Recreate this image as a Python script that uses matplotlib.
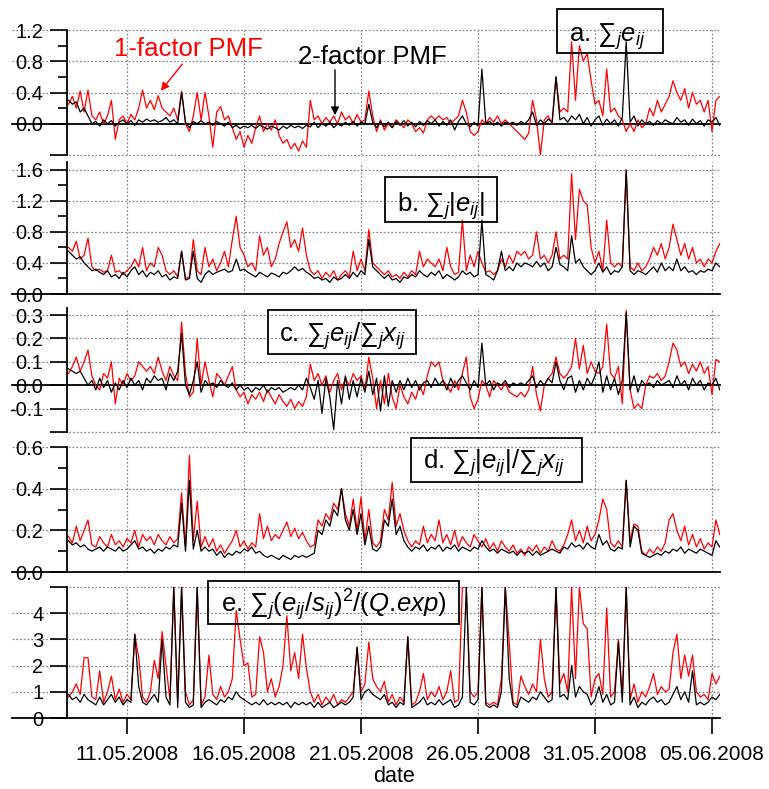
import matplotlib
matplotlib.use('Agg')
import matplotlib.pyplot as plt
from matplotlib.patches import Rectangle
from datetime import datetime, timedelta

plt.rcParams['font.family'] = ['Liberation Sans', 'DejaVu Sans']
plt.rcParams['mathtext.fontset'] = 'custom'
plt.rcParams['mathtext.rm'] = 'Liberation Sans'
plt.rcParams['mathtext.it'] = 'Liberation Sans:italic'
plt.rcParams['mathtext.bf'] = 'Liberation Sans:bold'
plt.rcParams['axes.unicode_minus'] = False

# ---------------- data (4-hourly samples from 08.05.2008 12:00) ----------------
start_time = datetime(2008, 5, 8, 12)
step_hours = 4

a_red = [
 0.25, 0.35, 0.20, 0.42, 0.15, 0.43, 0.10, 0.05, 0.15, 0.00, 0.10, 0.30,
 -0.20, 0.05, 0.10, 0.00, 0.12, 0.05, 0.20, 0.43, 0.20, 0.30, 0.18, 0.36,
 0.20, 0.15, 0.10, 0.20, 0.05, 0.42, 0.00, -0.10, 0.10, 0.40, 0.05, 0.40,
 0.10, -0.30, 0.15, 0.22, 0.05, 0.10, -0.05, -0.20, -0.10, -0.30, -0.15, -0.25,
 -0.05, 0.10, -0.10, 0.00, -0.08, 0.05, -0.15, -0.25, -0.20, -0.32, -0.25, -0.35,
 -0.22, -0.30, 0.30, 0.05, 0.10, 0.00, 0.08, 0.02, 0.10, 0.00, 0.15, 0.05,
 0.10, 0.00, 0.12, 0.02, 0.05, 0.42, 0.10, -0.10, 0.05, -0.08, 0.00, -0.05,
 0.05, 0.00, -0.05, 0.05, 0.00, -0.10, -0.05, -0.12, 0.05, 0.10, 0.05, 0.10,
 0.05, 0.08, 0.00, 0.05, 0.10, 0.30, 0.15, -0.10, -0.15, -0.10, 0.05, 0.00,
 0.08, 0.02, 0.10, 0.00, 0.05, 0.00, -0.05, -0.10, -0.15, -0.20, -0.12, 0.30,
 0.05, -0.40, 0.05, 0.10, 0.00, 0.60, 0.15, 0.20, 0.15, 1.05, 0.30, 1.00,
 0.80, 0.90, 0.55, 0.25, 0.30, 0.10, 0.70, 0.15, 0.20, 0.10, 0.05, -0.10,
 0.00, -0.10, 0.05, -0.05, 0.00, 0.20, 0.10, 0.30, 0.15, 0.25, 0.35, 0.55,
 0.40, 0.30, 0.45, 0.20, 0.40, 0.25, 0.30, 0.15, 0.30, -0.10, 0.30, 0.35]
a_black = [
 0.30, 0.25, 0.28, 0.15, 0.20, 0.10, 0.00, 0.03, -0.03, 0.05, 0.00, 0.04,
 -0.03, 0.02, 0.05, 0.00, 0.04, -0.02, 0.05, 0.02, 0.06, 0.03, 0.05, 0.02,
 0.04, 0.08, 0.02, 0.05, 0.00, 0.40, 0.02, -0.05, 0.03, 0.00, 0.04, 0.00,
 0.02, -0.02, 0.03, 0.00, -0.03, 0.02, -0.05, -0.02, -0.06, -0.03, -0.05, -0.02,
 -0.06, -0.02, -0.04, -0.07, -0.03, -0.05, -0.08, -0.03, -0.06, -0.02, -0.05, -0.03,
 -0.06, -0.02, -0.04, 0.02, -0.05, 0.00, -0.03, 0.02, -0.05, 0.00, -0.03, 0.02,
 -0.02, 0.03, -0.03, 0.02, 0.00, 0.25, 0.02, -0.05, 0.03, -0.04, 0.02, -0.05,
 0.03, -0.02, 0.04, -0.03, 0.02, -0.04, 0.03, -0.02, 0.04, 0.00, 0.05, -0.03,
 0.03, -0.02, 0.05, -0.08, 0.03, 0.10, 0.00, -0.04, 0.02, -0.03, 0.70, 0.00,
 0.03, -0.02, 0.02, -0.03, 0.02, 0.00, 0.02, -0.02, 0.03, 0.00, 0.05, 0.15,
 -0.02, 0.05, 0.00, 0.06, 0.02, 0.60, 0.05, 0.08, 0.02, 0.10, 0.05, 0.12,
 0.00, 0.08, -0.03, 0.05, 0.10, -0.02, 0.06, 0.00, 0.05, -0.03, 0.08, 1.05,
 0.02, 0.10, -0.03, 0.05, 0.00, 0.03, -0.02, 0.04, 0.00, 0.05, 0.02, 0.00,
 0.08, 0.02, 0.05, -0.02, 0.06, 0.00, 0.04, -0.03, 0.05, 0.02, 0.08, -0.02]

b_red = [
 0.60, 0.55, 0.68, 0.45, 0.50, 0.72, 0.35, 0.30, 0.32, 0.28, 0.30, 0.50,
 0.28, 0.30, 0.25, 0.30, 0.35, 0.45, 0.35, 0.60, 0.30, 0.40, 0.35, 0.60,
 0.50, 0.30, 0.25, 0.30, 0.22, 0.55, 0.20, 0.22, 0.70, 0.30, 0.25, 0.60,
 0.35, 0.45, 0.30, 0.40, 0.55, 0.35, 0.70, 1.00, 0.60, 0.50, 0.35, 0.40,
 0.30, 0.75, 0.50, 0.60, 0.35, 0.45, 0.65, 0.80, 0.93, 0.60, 0.70, 0.55,
 0.85, 0.50, 0.30, 0.25, 0.30, 0.20, 0.28, 0.22, 0.30, 0.18, 0.25, 0.30,
 0.22, 0.55, 0.30, 0.45, 0.30, 0.83, 0.40, 0.35, 0.30, 0.25, 0.30, 0.22,
 0.25, 0.20, 0.28, 0.22, 0.30, 0.25, 0.55, 0.35, 0.45, 0.40, 0.35, 0.45,
 0.30, 0.60, 0.35, 0.25, 0.28, 0.95, 0.30, 0.50, 0.35, 0.55, 0.40, 0.28,
 0.30, 0.25, 0.30, 0.45, 0.35, 0.50, 0.40, 0.55, 0.50, 0.55, 0.45, 0.50,
 0.80, 0.45, 0.50, 0.40, 0.50, 0.80, 0.45, 0.50, 0.45, 1.55, 0.70, 1.35,
 1.20, 1.15, 0.60, 0.40, 0.55, 0.30, 0.95, 0.40, 0.35, 0.40, 0.35, 1.58,
 0.35, 0.30, 0.40, 0.30, 0.35, 0.45, 0.60, 0.50, 0.65, 0.45, 0.60, 0.90,
 0.70, 0.50, 0.65, 0.45, 0.60, 0.40, 0.45, 0.35, 0.45, 0.40, 0.55, 0.65]
b_black = [
 0.55, 0.50, 0.45, 0.48, 0.40, 0.35, 0.30, 0.32, 0.28, 0.25, 0.30, 0.22,
 0.25, 0.20, 0.28, 0.22, 0.30, 0.35, 0.25, 0.30, 0.22, 0.28, 0.25, 0.30,
 0.22, 0.25, 0.18, 0.22, 0.20, 0.55, 0.18, 0.20, 0.55, 0.20, 0.15, 0.25,
 0.30, 0.25, 0.28, 0.30, 0.32, 0.28, 0.30, 0.45, 0.30, 0.32, 0.28, 0.25,
 0.22, 0.28, 0.25, 0.22, 0.27, 0.25, 0.22, 0.28, 0.26, 0.30, 0.35, 0.30,
 0.33, 0.28, 0.25, 0.20, 0.22, 0.18, 0.20, 0.15, 0.22, 0.18, 0.20, 0.25,
 0.20, 0.28, 0.22, 0.30, 0.25, 0.70, 0.35, 0.30, 0.25, 0.20, 0.25, 0.18,
 0.20, 0.15, 0.22, 0.20, 0.25, 0.22, 0.30, 0.25, 0.22, 0.28, 0.24, 0.30,
 0.20, 0.25, 0.22, 0.18, 0.22, 0.30, 0.25, 0.28, 0.22, 0.25, 0.95, 0.25,
 0.22, 0.18, 0.30, 0.55, 0.30, 0.35, 0.30, 0.40, 0.35, 0.40, 0.38, 0.35,
 0.42, 0.35, 0.40, 0.30, 0.35, 0.60, 0.38, 0.35, 0.30, 0.75, 0.40, 0.45,
 0.35, 0.30, 0.25, 0.30, 0.40, 0.28, 0.35, 0.25, 0.30, 0.28, 0.35, 1.60,
 0.30, 0.25, 0.30, 0.28, 0.25, 0.30, 0.35, 0.28, 0.40, 0.30, 0.35, 0.30,
 0.45, 0.30, 0.35, 0.28, 0.30, 0.25, 0.30, 0.28, 0.32, 0.30, 0.40, 0.35]

c_red = [
 0.05, 0.08, 0.12, 0.06, 0.10, 0.15, 0.04, 0.00, -0.02, 0.05, 0.03, 0.10,
 -0.08, 0.03, 0.00, 0.05, 0.02, 0.04, 0.10, 0.08, 0.06, 0.08, 0.05, 0.12,
 0.06, 0.02, 0.08, 0.04, 0.02, 0.27, 0.05, -0.05, -0.03, 0.20, 0.00, 0.10,
 0.02, -0.05, 0.05, 0.03, 0.00, 0.04, 0.08, -0.02, -0.05, -0.03, -0.08, -0.04,
 -0.06, -0.03, -0.07, -0.02, -0.05, -0.08, -0.04, -0.07, -0.09, -0.06, -0.10, -0.07,
 -0.09, -0.05, 0.09, 0.02, 0.05, 0.00, 0.04, -0.03, 0.02, 0.05, -0.02, 0.03,
 0.00, 0.05, 0.02, 0.04, -0.02, 0.12, 0.03, -0.10, 0.02, -0.08, 0.05, -0.05,
 -0.10, 0.00, -0.05, -0.08, -0.03, -0.06, 0.00, -0.04, 0.04, 0.10, 0.08, 0.10,
 0.02, 0.00, -0.03, 0.02, -0.02, 0.05, 0.12, -0.05, -0.10, -0.06, 0.02, 0.00,
 -0.05, 0.02, 0.00, -0.02, 0.01, -0.03, -0.04, -0.05, -0.03, -0.05, -0.02, 0.08,
 -0.04, -0.11, 0.00, 0.03, 0.05, 0.12, 0.05, 0.03, 0.05, 0.08, 0.20, 0.07,
 0.17, 0.05, 0.10, 0.06, 0.05, 0.08, 0.26, 0.05, 0.03, 0.08, -0.08, 0.32,
 -0.02, -0.10, -0.08, -0.10, 0.00, 0.04, 0.03, 0.05, 0.02, 0.04, 0.10, 0.18,
 0.15, 0.08, 0.10, 0.05, 0.09, 0.06, 0.10, 0.05, 0.08, -0.04, 0.11, 0.10]
c_black = [
 0.07, 0.06, 0.05, 0.06, 0.03, 0.00, 0.02, -0.02, 0.03, -0.01, 0.02, -0.03,
 0.01, -0.02, 0.02, -0.01, 0.03, 0.00, 0.02, -0.02, 0.03, 0.01, 0.04, 0.02,
 0.03, -0.02, 0.05, 0.02, 0.06, 0.22, 0.00, -0.04, 0.02, 0.10, -0.03, 0.02,
 0.00, 0.01, -0.01, 0.02, 0.00, -0.01, 0.01, -0.02, 0.00, -0.02, -0.01, -0.03,
 -0.01, -0.02, 0.00, -0.03, -0.01, -0.02, -0.01, -0.03, -0.02, -0.01, -0.02, 0.00,
 -0.02, 0.03, -0.01, -0.06, 0.02, -0.12, 0.03, -0.05, -0.19, 0.02, -0.08, 0.04,
 -0.06, 0.02, -0.05, 0.03, -0.03, 0.06, -0.04, 0.03, -0.11, 0.04, -0.09, 0.02,
 -0.03, 0.02, -0.02, 0.03, -0.01, 0.02, -0.02, 0.01, 0.02, -0.01, 0.03, 0.00,
 0.02, -0.02, 0.03, -0.01, 0.02, 0.04, 0.01, -0.02, 0.02, -0.01, 0.18, 0.00,
 0.02, -0.02, 0.01, 0.00, 0.02, -0.01, 0.01, 0.00, 0.01, 0.00, 0.02, 0.04,
 -0.01, 0.02, 0.00, 0.03, 0.01, 0.10, 0.02, -0.02, 0.03, 0.04, -0.03, 0.02,
 -0.02, 0.03, 0.00, 0.04, 0.10, -0.03, 0.04, -0.02, 0.03, -0.04, 0.02, 0.31,
 -0.02, 0.04, -0.03, 0.02, 0.00, 0.01, -0.01, 0.02, 0.00, 0.01, 0.02, -0.01,
 0.04, 0.00, 0.02, -0.02, 0.03, 0.00, 0.02, -0.02, 0.01, 0.00, 0.03, -0.02]

d_red = [
 0.17, 0.14, 0.22, 0.15, 0.20, 0.25, 0.13, 0.12, 0.17, 0.14, 0.12, 0.18,
 0.13, 0.15, 0.12, 0.16, 0.14, 0.20, 0.12, 0.18, 0.15, 0.17, 0.13, 0.18,
 0.15, 0.13, 0.17, 0.14, 0.16, 0.38, 0.12, 0.56, 0.15, 0.34, 0.12, 0.17,
 0.12, 0.16, 0.10, 0.13, 0.09, 0.12, 0.15, 0.20, 0.12, 0.15, 0.11, 0.14,
 0.12, 0.28, 0.16, 0.22, 0.15, 0.18, 0.16, 0.20, 0.24, 0.17, 0.21, 0.16,
 0.19, 0.15, 0.12, 0.13, 0.25, 0.22, 0.28, 0.25, 0.33, 0.30, 0.40, 0.28,
 0.22, 0.35, 0.20, 0.36, 0.15, 0.30, 0.14, 0.12, 0.15, 0.30, 0.25, 0.43,
 0.22, 0.28, 0.20, 0.15, 0.12, 0.15, 0.13, 0.22, 0.14, 0.18, 0.15, 0.25,
 0.14, 0.18, 0.13, 0.20, 0.12, 0.17, 0.14, 0.12, 0.18, 0.15, 0.12, 0.16,
 0.11, 0.14, 0.10, 0.15, 0.12, 0.10, 0.13, 0.09, 0.11, 0.08, 0.12, 0.10,
 0.13, 0.09, 0.12, 0.10, 0.15, 0.11, 0.10, 0.13, 0.18, 0.25, 0.15, 0.20,
 0.14, 0.22, 0.15, 0.18, 0.25, 0.35, 0.30, 0.14, 0.12, 0.15, 0.12, 0.44,
 0.15, 0.23, 0.22, 0.10, 0.08, 0.11, 0.09, 0.12, 0.10, 0.14, 0.25, 0.28,
 0.20, 0.15, 0.22, 0.13, 0.18, 0.12, 0.16, 0.11, 0.14, 0.12, 0.25, 0.18]
d_black = [
 0.15, 0.13, 0.14, 0.12, 0.13, 0.11, 0.10, 0.11, 0.12, 0.10, 0.12, 0.11,
 0.10, 0.12, 0.10, 0.11, 0.13, 0.15, 0.11, 0.12, 0.10, 0.11, 0.09, 0.11,
 0.10, 0.12, 0.11, 0.13, 0.12, 0.33, 0.10, 0.44, 0.11, 0.20, 0.10, 0.12,
 0.10, 0.11, 0.08, 0.10, 0.07, 0.09, 0.08, 0.10, 0.09, 0.11, 0.10, 0.12,
 0.09, 0.10, 0.08, 0.07, 0.08, 0.07, 0.06, 0.08, 0.07, 0.06, 0.08, 0.07,
 0.08, 0.07, 0.08, 0.09, 0.20, 0.18, 0.25, 0.22, 0.30, 0.27, 0.40, 0.25,
 0.20, 0.30, 0.18, 0.28, 0.13, 0.22, 0.11, 0.10, 0.12, 0.25, 0.22, 0.35,
 0.18, 0.22, 0.15, 0.12, 0.10, 0.12, 0.11, 0.13, 0.10, 0.12, 0.11, 0.13,
 0.10, 0.12, 0.11, 0.13, 0.10, 0.12, 0.11, 0.10, 0.12, 0.11, 0.15, 0.12,
 0.10, 0.11, 0.09, 0.11, 0.10, 0.09, 0.10, 0.08, 0.10, 0.09, 0.10, 0.08,
 0.10, 0.08, 0.09, 0.10, 0.11, 0.10, 0.09, 0.12, 0.11, 0.14, 0.12, 0.13,
 0.11, 0.14, 0.12, 0.11, 0.18, 0.13, 0.15, 0.11, 0.10, 0.12, 0.11, 0.44,
 0.12, 0.22, 0.20, 0.09, 0.08, 0.07, 0.08, 0.09, 0.08, 0.10, 0.09, 0.11,
 0.10, 0.12, 0.09, 0.11, 0.10, 0.09, 0.11, 0.10, 0.09, 0.08, 0.15, 0.12]

e_red = [
 0.8, 1.0, 1.3, 0.9, 2.3, 2.3, 0.8, 0.7, 1.8, 0.6, 1.0, 1.6,
 0.7, 1.1, 0.6, 0.9, 0.7, 3.2, 2.3, 0.8, 0.6, 1.0, 2.2, 1.5,
 3.3, 2.0, 0.7, 5.0, 0.6, 5.0, 1.0, 0.5, 0.7, 5.0, 0.5, 0.8,
 2.4, 0.9, 0.7, 1.2, 0.8, 1.0, 1.5, 4.1, 3.0, 2.0, 2.1, 0.8,
 0.9, 3.1, 2.5, 1.0, 1.5, 0.8, 1.2, 2.0, 3.9, 1.8, 2.5, 1.5,
 3.2, 1.9, 1.0, 0.6, 0.9, 0.5, 0.8, 0.6, 0.9, 0.5, 0.7, 0.6,
 0.8, 1.0, 2.7, 1.0, 1.3, 2.9, 1.5, 1.2, 1.0, 1.4, 0.6, 0.9,
 0.5, 0.8, 0.6, 3.1, 0.5, 0.6, 1.0, 1.7, 0.7, 1.0, 0.8, 1.2,
 0.7, 1.0, 1.8, 0.6, 0.7, 5.0, 5.0, 1.0, 0.8, 1.0, 5.0, 0.6,
 0.5, 0.6, 0.5, 1.5, 5.0, 2.9, 0.6, 0.5, 1.6, 1.2, 0.9, 1.3,
 1.0, 3.0, 1.5, 0.8, 1.0, 5.0, 1.3, 1.7, 1.0, 5.0, 1.5, 5.0,
 3.6, 3.4, 0.8, 1.5, 1.7, 0.9, 4.2, 0.8, 1.0, 3.0, 0.8, 5.0,
 0.7, 1.3, 0.6, 1.0, 0.8, 1.2, 1.7, 0.9, 1.2, 1.0, 1.1, 2.5,
 3.2, 1.5, 2.4, 1.6, 2.4, 1.0, 0.8, 0.9, 0.7, 1.7, 1.3, 1.6]
e_black = [
 0.9, 0.7, 0.8, 0.6, 0.9, 0.7, 0.6, 0.5, 0.8, 0.5, 0.7, 0.9,
 0.6, 0.8, 0.5, 0.7, 0.6, 3.2, 1.2, 0.6, 0.5, 0.7, 0.9, 0.6,
 3.0, 0.8, 0.5, 5.0, 0.4, 5.0, 0.6, 0.4, 0.5, 5.0, 0.4, 0.6,
 0.7, 0.6, 0.5, 0.7, 0.6, 0.8, 0.7, 1.0, 0.8, 0.7, 0.6, 0.5,
 0.6, 0.5, 0.7, 0.5, 0.6, 0.5, 0.6, 0.5, 0.6, 0.4, 0.6, 0.5,
 0.6, 0.5, 0.6, 0.4, 0.6, 0.4, 0.5, 0.6, 0.4, 0.5, 0.6, 0.5,
 0.6, 0.8, 2.7, 0.7, 1.0, 1.1, 0.9, 0.8, 0.7, 0.9, 0.5, 0.6,
 0.4, 0.6, 0.5, 3.1, 0.4, 0.5, 0.6, 0.8, 0.5, 0.6, 0.5, 0.7,
 0.5, 0.6, 0.7, 0.4, 0.5, 0.8, 5.0, 0.6, 0.5, 0.7, 5.0, 0.5,
 0.4, 0.5, 0.4, 1.0, 5.0, 1.5, 0.5, 0.4, 0.8, 0.7, 0.6, 0.8,
 0.7, 1.0, 0.8, 0.6, 0.7, 5.0, 0.8, 0.9, 0.7, 2.0, 0.8, 1.2,
 1.0, 0.9, 0.5, 0.7, 1.2, 0.6, 0.9, 0.5, 0.6, 2.9, 0.6, 5.0,
 0.5, 0.8, 0.4, 0.6, 0.5, 0.7, 0.8, 0.6, 0.7, 0.5, 0.6, 0.9,
 1.2, 0.7, 1.0, 0.6, 1.8, 0.5, 0.6, 0.5, 0.6, 0.8, 0.7, 0.9]

date_ticks = [datetime(2008, 5, 11), datetime(2008, 5, 16), datetime(2008, 5, 21),
              datetime(2008, 5, 26), datetime(2008, 5, 31), datetime(2008, 6, 5)]
date_labels = ['11.05.2008', '16.05.2008', '21.05.2008', '26.05.2008', '31.05.2008', '05.06.2008']

panel_labels = [r'a. $\mathregular{∑}_j e_{ij}$',
                r'b. $\mathregular{∑}_j|e_{ij}|$',
                r'c. $\mathregular{∑}_j e_{ij}/\mathregular{∑}_j x_{ij}$',
                r'd. $\mathregular{∑}_j|e_{ij}|/\mathregular{∑}_j x_{ij}$',
                r'e. $\mathregular{∑}_j(e_{ij}/s_{ij})^2/(Q.\!exp)$']

# y-axis configurations
y_major = [[-0.4, 0.0, 0.4, 0.8, 1.2], [0.0, 0.4, 0.8, 1.2, 1.6],
           [-0.2, -0.1, 0.0, 0.1, 0.2, 0.3], [0.0, 0.2, 0.4, 0.6], [0, 1, 2, 3, 4, 5]]
y_major_labels = [['', '0.0', '0.4', '0.8', '1.2'], ['0.0', '0.4', '0.8', '1.2', '1.6'],
                  ['', '-0.1', '0.0', '0.1', '0.2', '0.3'], ['0.0', '0.2', '0.4', '0.6'],
                  ['0', '1', '2', '3', '4', '']]
y_minor = [[0.2, 0.6, 1.0], [0.2, 0.6, 1.0, 1.4], [], [0.1, 0.3, 0.5], []]
y_lims = [(-0.4, 1.2), (0.0, 1.7), (-0.2, 0.33), (0.0, 0.6), (0.0, 4.95)]

# ---------------- figure ----------------
W, H = 769, 789
fig = plt.figure(figsize=(W / 100, H / 100), dpi=100)
fig.patch.set_facecolor('white')

px_left, px_right = 67, 720
panel_px = [(30, 155), (162, 294), (308, 432), (447, 572), (587, 718)]
# label boxes (left, top, right, bottom) and text start / baseline, in pixels
box_px = [(557, 9, 663, 53), (385, 177, 497, 222), (268, 310, 416, 354),
          (411, 438, 582, 482), (208, 581, 459, 624)]
text_px = [(569, 42), (397, 212), (279, 342), (423, 469), (221, 612)]

times = [start_time + timedelta(hours=step_hours * k) for k in range(len(a_red))]
x_lo = datetime(2008, 5, 8, 10, 28)
x_hi = datetime(2008, 6, 5, 8, 12)

series = [(a_red, a_black), (b_red, b_black), (c_red, c_black), (d_red, d_black), (e_red, e_black)]
grid_col = '#8a8a8a'
ext = (12 - px_left) / (px_right - px_left)

axes = []
for k, ((red, black), (top, bot)) in enumerate(zip(series, panel_px)):
    ax = fig.add_axes([px_left / W, 1 - bot / H, (px_right - px_left) / W, (bot - top) / H])
    axes.append(ax)
    ax.set_facecolor('none')
    ax.plot(times, red, color='#ff0000', lw=0.9, zorder=3)
    ax.plot(times, black, color='black', lw=0.9, zorder=4)
    ax.set_xlim(x_lo, x_hi)
    ax.set_ylim(*y_lims[k])
    for s in ['top', 'right', 'bottom']:
        ax.spines[s].set_visible(False)
    ax.spines['left'].set_linewidth(1.3)
    ax.spines['left'].set_zorder(6)
    ax.set_yticks(y_major[k])
    ax.set_yticklabels(y_major_labels[k])
    ax.set_yticks(y_minor[k], minor=True)
    ax.tick_params(axis='y', which='major', direction='out', length=12, width=1.2,
                   labelsize=14.5, pad=5)
    ax.tick_params(axis='y', which='minor', direction='out', length=6.5, width=1.2)
    for d in date_ticks:
        ax.axvline(d, color=grid_col, ls=(0, (1.5, 1.5)), lw=0.9, zorder=1)
    for v, lab in zip(y_major[k], y_major_labels[k]):
        if v == 0:
            continue
        x0 = ext if lab else (50 - px_left) / (px_right - px_left)
        ax.plot([x0, 1.0], [v, v], transform=ax.get_yaxis_transform(), color=grid_col,
                ls=(0, (1.5, 1.5)), lw=0.9, clip_on=False, zorder=1)
    ax.plot([ext, 1.0], [0, 0], transform=ax.get_yaxis_transform(), color='black',
            lw=1.3, clip_on=False, zorder=2.5)
    if k < 4:
        ax.set_xticks([])
    else:
        ax.set_xticks(date_ticks)
        ax.set_xticklabels(date_labels)
        ax.tick_params(axis='x', direction='out', length=11.5, width=1.2, labelsize=15, pad=8)
        ax.set_xlabel('date', fontsize=15.5, labelpad=1.5)

    l, t, r, b = box_px[k]
    fig.add_artist(Rectangle((l / W, 1 - b / H), (r - l) / W, (b - t) / H,
                             transform=fig.transFigure, fill=False, ec='black', lw=1.3, zorder=10))
    tx, ty = text_px[k]
    fig.text(tx / W, 1 - ty / H, panel_labels[k], ha='left', va='baseline', fontsize=18.5, zorder=10)

# annotations
fig.text(188 / W, 1 - 49 / H, '1-factor PMF', color='#ff0000', fontsize=18.5, ha='center', va='center')
fig.text(372 / W, 1 - 57 / H, '2-factor PMF', color='black', fontsize=18.5, ha='center', va='center')
axes[0].annotate('', xy=(159 / W, 1 - 93 / H), xytext=(184 / W, 1 - 62 / H),
                 xycoords='figure fraction', textcoords='figure fraction',
                 arrowprops=dict(arrowstyle='-|>', color='#ff0000', lw=1.0, mutation_scale=12))
axes[0].annotate('', xy=(335 / W, 1 - 118 / H), xytext=(335 / W, 1 - 67 / H),
                 xycoords='figure fraction', textcoords='figure fraction',
                 arrowprops=dict(arrowstyle='-|>', color='black', lw=1.0, mutation_scale=12))

fig.savefig('out.png', dpi=100)
